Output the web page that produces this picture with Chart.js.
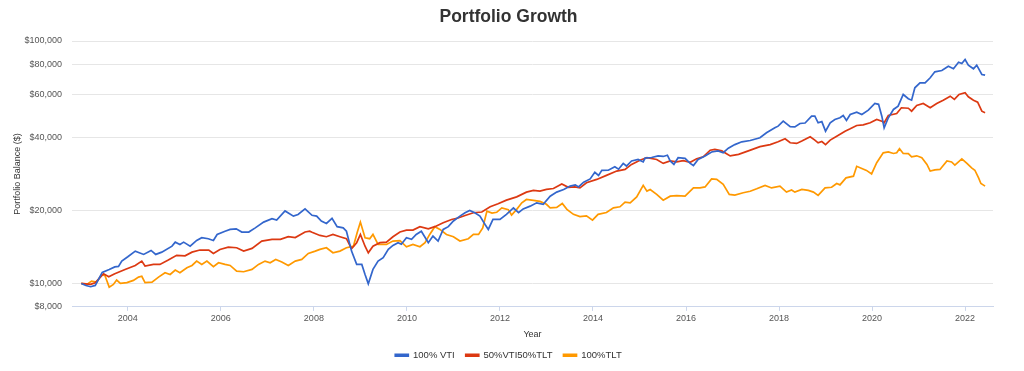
<!DOCTYPE html>
<html>
<head>
<meta charset="utf-8">
<title>Portfolio Growth</title>
<script src="https://cdn.jsdelivr.net/npm/chart.js@4.4.0/dist/chart.umd.min.js"></script>
<style>
  html, body { margin: 0; padding: 0; background: #ffffff; }
  #wrap { width: 1024px; height: 371px; position: relative; }
</style>
</head>
<body>
<div id="wrap"><canvas id="growthChart"></canvas></div>
<script>
// ===============================
// Portfolio Growth - data
// ===============================

const seriesNames = ["100% VTI", "50%VTI50%TLT", "100%TLT"];

const yearTicks = [2004, 2006, 2008, 2010, 2012, 2014, 2016, 2018, 2020, 2022];
const balanceTicks = [8000, 10000, 20000, 40000, 60000, 80000, 100000];

// 100% VTI
const vtiYears = [
  2003.0, 2003.1, 2003.2, 2003.3, 2003.45, 2003.6, 2003.72, 2003.8, 2003.87, 2004.0,
  2004.16, 2004.34, 2004.5, 2004.6, 2004.73, 2004.95, 2005.02, 2005.12, 2005.2, 2005.34,
  2005.48, 2005.59, 2005.73, 2005.84, 2005.92, 2006.09, 2006.2, 2006.33, 2006.45, 2006.6,
  2006.74, 2006.92, 2007.1, 2007.2, 2007.38, 2007.56, 2007.66, 2007.81, 2007.96, 2008.06,
  2008.16, 2008.27, 2008.39, 2008.5, 2008.63, 2008.7, 2008.81, 2008.92, 2009.03, 2009.1,
  2009.17, 2009.27, 2009.38, 2009.49, 2009.6, 2009.7, 2009.81, 2009.88, 2009.99, 2010.1,
  2010.2, 2010.31, 2010.46, 2010.56, 2010.67, 2010.78, 2010.89, 2011.0, 2011.14, 2011.25,
  2011.35, 2011.46, 2011.57, 2011.68, 2011.75, 2011.85, 2012.0, 2012.14, 2012.29, 2012.4,
  2012.5, 2012.65, 2012.79, 2012.93, 2013.08, 2013.22, 2013.37, 2013.51, 2013.62, 2013.69,
  2013.8, 2013.94, 2014.04, 2014.12, 2014.19, 2014.33, 2014.47, 2014.55, 2014.65, 2014.72,
  2014.83, 2014.97, 2015.08, 2015.12, 2015.26, 2015.4, 2015.51, 2015.6, 2015.66, 2015.74,
  2015.83, 2015.98, 2016.09, 2016.16, 2016.26, 2016.41, 2016.55, 2016.69, 2016.8, 2016.91,
  2017.05, 2017.2, 2017.38, 2017.59, 2017.73, 2017.91, 2017.98, 2018.09, 2018.24, 2018.34,
  2018.45, 2018.56, 2018.7, 2018.77, 2018.84, 2018.92, 2019.0, 2019.1, 2019.2, 2019.31,
  2019.38, 2019.45, 2019.53, 2019.67, 2019.78, 2019.92, 2020.06, 2020.14, 2020.21, 2020.26,
  2020.35, 2020.46, 2020.56, 2020.67, 2020.78, 2020.85, 2020.92, 2021.03, 2021.14, 2021.25,
  2021.35, 2021.5, 2021.64, 2021.75, 2021.86, 2021.93, 2022.0, 2022.07, 2022.18, 2022.25,
  2022.36, 2022.43
];
const vtiValues = [
  10000, 9800, 9690, 9810, 11100, 11420, 11700, 11750, 12360, 12880,
  13590, 13170, 13680, 13170, 13460, 14250, 14800, 14480, 14800, 14250,
  15040, 15430, 15290, 15040, 15920, 16420, 16700, 16800, 16290, 16290,
  16950, 17900, 18480, 18250, 19900, 18950, 19250, 20300, 19100, 18950,
  18090, 17680, 18540, 17140, 16950, 16420, 13590, 11980, 11980, 10890,
  9970, 11420, 12360, 12760, 13810, 14350, 14720, 14500, 15430, 15190,
  15920, 16420, 14720, 15670, 14950, 16700, 17140, 18090, 18950, 19570,
  20000, 19570, 18950, 17500, 16700, 18360, 18360, 19270, 20500, 19570,
  20300, 20830, 21500, 21200, 22900, 23800, 24410, 25200, 25500, 25000,
  26160, 26980, 28720, 27900, 29260, 29300, 30300, 29600, 31260, 30500,
  31990, 32460, 31700, 32900, 33060, 33570, 33400, 33800, 31990, 30960,
  33000, 32800, 31260, 30640, 32460, 33570, 34840, 35200, 34600, 36130,
  37380, 38380, 38870, 39880, 41820, 43850, 44530, 46700, 44280, 44200,
  45690, 45900, 48970, 48970, 45990, 46500, 42460, 45990, 47460, 48230,
  49290, 47010, 49760, 50870, 49760, 51830, 55250, 54800, 48970, 43850,
  48230, 52190, 53850, 60170, 57770, 57000, 64130, 67240, 67240, 70500,
  74640, 75570, 78720, 76800, 81780, 80770, 83880, 79500, 76800, 79460,
  72760, 72260
];

// 50% VTI / 50% TLT
const mixYears = [
  2003.0, 2003.2, 2003.3, 2003.48, 2003.59, 2003.72, 2003.94, 2004.16, 2004.3, 2004.37,
  2004.55, 2004.69, 2004.87, 2005.05, 2005.23, 2005.38, 2005.55, 2005.74, 2005.84, 2005.98,
  2006.16, 2006.34, 2006.49, 2006.67, 2006.88, 2007.1, 2007.28, 2007.45, 2007.6, 2007.81,
  2007.91, 2007.96, 2008.13, 2008.27, 2008.41, 2008.56, 2008.7, 2008.81, 2008.92, 2009.0,
  2009.1, 2009.17, 2009.27, 2009.42, 2009.56, 2009.7, 2009.85, 2009.99, 2010.13, 2010.28,
  2010.46, 2010.6, 2010.78, 2010.96, 2011.1, 2011.25, 2011.43, 2011.61, 2011.79, 2011.96,
  2012.14, 2012.36, 2012.57, 2012.72, 2012.86, 2013.0, 2013.15, 2013.33, 2013.47, 2013.61,
  2013.72, 2013.86, 2014.08, 2014.29, 2014.51, 2014.69, 2014.83, 2015.01, 2015.16, 2015.37,
  2015.51, 2015.66, 2015.8, 2015.94, 2016.09, 2016.23, 2016.37, 2016.52, 2016.62, 2016.77,
  2016.95, 2017.13, 2017.34, 2017.59, 2017.81, 2017.98, 2018.13, 2018.24, 2018.38, 2018.49,
  2018.67, 2018.77, 2018.84, 2018.92, 2019.0, 2019.1, 2019.24, 2019.42, 2019.53, 2019.67,
  2019.81, 2019.96, 2020.1, 2020.21, 2020.26, 2020.35, 2020.53, 2020.63, 2020.78, 2020.85,
  2020.96, 2021.1, 2021.25, 2021.39, 2021.53, 2021.68, 2021.77, 2021.87, 2022.0, 2022.07,
  2022.18, 2022.27, 2022.36, 2022.43
];
const mixValues = [
  10000, 9905, 10070, 10960, 10660, 10960, 11420, 11860, 12360, 11790,
  11980, 11980, 12480, 13050, 12990, 13460, 13730, 13730, 13290, 13810,
  14110, 14030, 13590, 13950, 14950, 15190, 15190, 15580, 15450, 16290,
  16420, 16250, 15770, 15580, 15920, 15580, 15290, 13900, 14720, 15920,
  14240, 13380, 14240, 14720, 14800, 15580, 16290, 16580, 16600, 17140,
  16800, 17140, 17780, 18360, 18620, 19070, 19570, 19700, 20700, 21300,
  22050, 22750, 23800, 24200, 24030, 24410, 24630, 25720, 24900, 25000,
  24770, 26010, 26850, 27900, 29070, 29520, 30960, 32230, 33000, 32460,
  31260, 32000, 31700, 32100, 31600, 32670, 33290, 35450, 35700, 35200,
  33570, 34080, 35200, 36650, 37380, 38380, 39510, 38030, 37800, 38680,
  40270, 39000, 38000, 38500, 37380, 39000, 40500, 42460, 43440, 44820,
  45100, 45990, 47460, 46700, 45990, 49290, 50240, 53040, 52800, 51340,
  54200, 55250, 53040, 55250, 57000, 59210, 57400, 60170, 61140, 58880,
  57000, 55940, 51340, 50560
];

// 100% TLT
const tltYears = [
  2003.0, 2003.12, 2003.22, 2003.33, 2003.44, 2003.51, 2003.6, 2003.69, 2003.76, 2003.84,
  2003.98, 2004.12, 2004.23, 2004.3, 2004.37, 2004.52, 2004.66, 2004.8, 2004.91, 2005.02,
  2005.12, 2005.27, 2005.38, 2005.48, 2005.59, 2005.7, 2005.84, 2005.95, 2006.09, 2006.2,
  2006.34, 2006.49, 2006.67, 2006.81, 2006.95, 2007.06, 2007.18, 2007.31, 2007.45, 2007.6,
  2007.74, 2007.88, 2008.03, 2008.13, 2008.27, 2008.41, 2008.56, 2008.7, 2008.85, 2008.93,
  2009.0, 2009.1, 2009.2, 2009.27, 2009.38, 2009.56, 2009.7, 2009.85, 2009.99, 2010.13,
  2010.28, 2010.39, 2010.49, 2010.6, 2010.71, 2010.85, 2011.0, 2011.14, 2011.32, 2011.43,
  2011.54, 2011.63, 2011.72, 2011.83, 2011.93, 2012.04, 2012.18, 2012.25, 2012.36, 2012.47,
  2012.57, 2012.72, 2012.86, 2013.0, 2013.08, 2013.22, 2013.34, 2013.44, 2013.58, 2013.72,
  2013.86, 2013.99, 2014.11, 2014.29, 2014.44, 2014.58, 2014.69, 2014.8, 2014.94, 2015.08,
  2015.16, 2015.23, 2015.37, 2015.51, 2015.66, 2015.8, 2015.98, 2016.16, 2016.3, 2016.41,
  2016.55, 2016.66, 2016.8, 2016.93, 2017.05, 2017.23, 2017.38, 2017.52, 2017.7, 2017.84,
  2018.02, 2018.16, 2018.27, 2018.34, 2018.49, 2018.63, 2018.74, 2018.84, 2018.99, 2019.13,
  2019.24, 2019.31, 2019.44, 2019.6, 2019.67, 2019.78, 2019.88, 2019.99, 2020.1, 2020.24,
  2020.35, 2020.46, 2020.53, 2020.59, 2020.67, 2020.78, 2020.85, 2020.96, 2021.07, 2021.18,
  2021.25, 2021.35, 2021.46, 2021.61, 2021.71, 2021.78, 2021.93, 2022.04, 2022.14, 2022.21,
  2022.29, 2022.34, 2022.43
];
const tltValues = [
  10000, 9900, 10220, 10120, 10890, 10750, 9650, 9900, 10320, 10000,
  10070, 10290, 10620, 10700, 10070, 10120, 10620, 11070, 10890, 11350,
  11070, 11610, 11860, 12360, 11980, 12360, 11720, 12170, 11980, 11860,
  11240, 11170, 11420, 11980, 12360, 12170, 12560, 12250, 11860, 12360,
  12560, 13290, 13590, 13810, 14030, 13380, 13590, 14030, 14240, 16180,
  17900, 15430, 15290, 15920, 14480, 14480, 14950, 15000, 14160, 14480,
  14160, 14720, 15920, 17140, 16700, 15920, 15580, 14950, 15290, 15920,
  15920, 16950, 19870, 19500, 19650, 20500, 20150, 19150, 20200, 21500,
  22200, 22000, 21800, 21200, 20500, 20600, 21370, 20200, 19270, 18850,
  19000, 18240, 19270, 19600, 20500, 20700, 21640, 21500, 22750, 25380,
  24030, 24410, 23300, 22050, 22900, 23000, 22900, 24770, 24770, 25000,
  26980, 26850, 25620, 23300, 23150, 23650, 24000, 24570, 25380, 24770,
  25200, 23800, 24300, 23800, 24410, 24200, 23800, 23080, 24770, 24920,
  25840, 25500, 27250, 27690, 30420, 29800, 29260, 28280, 31460, 34580,
  34900, 34350, 34580, 35930, 34350, 34300, 33290, 33600, 33000, 30960,
  29070, 29400, 29520, 31990, 31700, 30760, 32670, 31260, 29940, 29300,
  27250, 25840, 25200
];

const lineColors = ["#3366cc", "#dc3912", "#ff9900"];

function toPoints(years, values) {
    return years.map((yr, i) => ({ x: yr, y: values[i] }));
}

// ===============================

Chart.defaults.font.family = "'Liberation Sans', Arial, Helvetica, sans-serif";
Chart.defaults.color = "#555555";

const ctx = document.getElementById("growthChart").getContext("2d");

const chart = new Chart(ctx, {

    type: "line",

    data: {
        datasets: [
            {
                label: seriesNames[0],
                data: toPoints(vtiYears, vtiValues),
                borderColor: lineColors[0],
                backgroundColor: lineColors[0]
            },
            {
                label: seriesNames[1],
                data: toPoints(mixYears, mixValues),
                borderColor: lineColors[1],
                backgroundColor: lineColors[1]
            },
            {
                label: seriesNames[2],
                data: toPoints(tltYears, tltValues),
                borderColor: lineColors[2],
                backgroundColor: lineColors[2]
            }
        ]
    },

    options: {
        responsive: true,
        maintainAspectRatio: false,
        animation: false,
        elements: {
            line: { borderWidth: 1.7, tension: 0 },
            point: { radius: 0 }
        },
        layout: {
            padding: { left: 24, right: 31, top: 0, bottom: 1 }
        },
        plugins: {
            title: {
                display: true,
                text: "Portfolio Growth",
                color: "#333333",
                font: { size: 17.5, weight: "bold" },
                padding: { top: 7, bottom: 13 }
            },
            legend: {
                position: "bottom",
                labels: {
                    boxWidth: 13,
                    boxHeight: 2,
                    padding: 11,
                    color: "#333333",
                    font: { size: 9.5 }
                }
            },
            tooltip: { enabled: false }
        },
        scales: {
            x: {
                type: "linear",
                min: 2002.8,
                max: 2022.6,
                afterBuildTicks: scale => {
                    scale.ticks = yearTicks.map(v => ({ value: v }));
                },
                ticks: {
                    callback: v => String(v),
                    font: { size: 9 },
                    color: "#555555",
                    maxRotation: 0,
                    padding: 2
                },
                grid: {
                    drawOnChartArea: false,
                    drawTicks: true,
                    tickLength: 4,
                    color: "#ccd6eb"
                },
                border: { display: true, color: "#ccd6eb" },
                title: {
                    display: true,
                    text: "Year",
                    color: "#333333",
                    font: { size: 9 },
                    padding: { top: 3, bottom: 0 }
                }
            },
            y: {
                type: "logarithmic",
                min: 8000,
                max: 100000,
                afterBuildTicks: scale => {
                    scale.ticks = balanceTicks.map(v => ({ value: v }));
                },
                afterFit: scale => {
                    scale.width = 48;
                },
                ticks: {
                    callback: v => "$" + Number(v).toLocaleString("en-US"),
                    font: { size: 9 },
                    color: "#555555",
                    padding: 10
                },
                grid: {
                    color: "#e6e6e6",
                    drawTicks: false
                },
                border: { display: false },
                title: {
                    display: true,
                    text: "Portfolio Balance ($)",
                    color: "#333333",
                    font: { size: 9 },
                    // pulled left into the page margin
                    padding: { top: -11.4, bottom: 4 }
                }
            }
        }
    }

});
</script>
</body>
</html>
